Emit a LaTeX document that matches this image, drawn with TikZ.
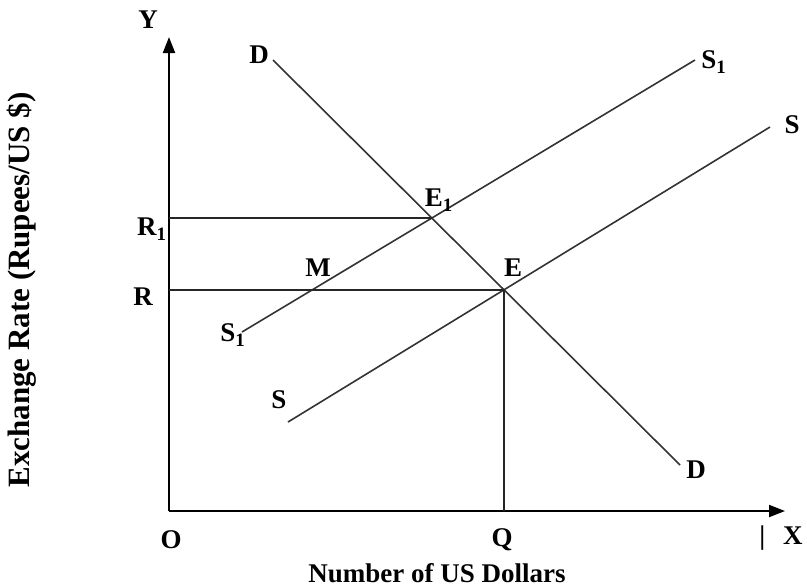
\documentclass[tikz,border=0pt]{standalone}
\usepackage{fontspec}
\setmainfont{Liberation Serif}
\usetikzlibrary{arrows.meta,intersections}

\begin{document}
\begin{tikzpicture}[x=0.5pt,y=-0.5pt,
    lbl/.style={font=\fontsize{13.5}{15}\selectfont\bfseries, inner sep=0pt},
    axis/.style={-{Triangle[length=8pt,width=6pt]}, line width=1pt},
    curve/.style={line width=0.8pt, black!80},
    guide/.style={line width=0.8pt, black!85}
]
\useasboundingbox (0,0) rectangle (807,586);
% axes
\coordinate (O) at (169,511);
\coordinate (ytop) at (169,37);
\coordinate (xend) at (785,511);
\draw[axis] (O) -- (ytop);
\draw[axis] (O) -- (xend);
% demand and supply curves
\coordinate (d1) at (273,60);
\coordinate (d2) at (680,465);
\coordinate (sa1) at (242,332);
\coordinate (sa2) at (695,60);
\coordinate (s1) at (288,422);
\coordinate (s2) at (770,127);
\draw[curve, name path=dd] (d1) -- (d2);
\draw[curve, name path=ssone] (sa1) -- (sa2);
\draw[curve, name path=ss] (s1) -- (s2);
\path[name intersections={of=dd and ss, by=E}];
\path[name intersections={of=dd and ssone, by=E1}];
% guide lines
\draw[guide] (O |- E) -- (E);
\draw[guide] (E) -- (E |- O);
\draw[guide] (O |- E1) -- (E1);
% labels
\node[lbl] (ylab) at (148,20) {Y};
\node[lbl] (dtop) at (259,55) {D};
\node[lbl] (sonetop) at (714,62) {S\textsubscript{1}};
\node[lbl] (stop) at (792,125) {S};
\node[lbl] (eone) at (439,200) {E\textsubscript{1}};
\node[lbl] (rone) at (152,229) {R\textsubscript{1}};
\node[lbl] (mlab) at (318,268) {M};
\node[lbl] (elab) at (513,268) {E};
\node[lbl] (rlab) at (143,297) {R};
\node[lbl] (sonebot) at (233,335) {S\textsubscript{1}};
\node[lbl] (sbot) at (279,400) {S};
\node[lbl] (dbot) at (696,470) {D};
\node[lbl] (olab) at (171,540) {O};
\node[lbl] (qlab) at (502,540) {Q};
\node[lbl] (xlab) at (781,538) {|\hspace{9pt}X};
\node[lbl] (xtitle) at (437,573) {Number of US Dollars};
\node[lbl, rotate=90, font=\fontsize{15.5}{17}\selectfont\bfseries] (ytitle) at (22,290) {Exchange Rate (Rupees/US \$)};
\end{tikzpicture}
\end{document}
